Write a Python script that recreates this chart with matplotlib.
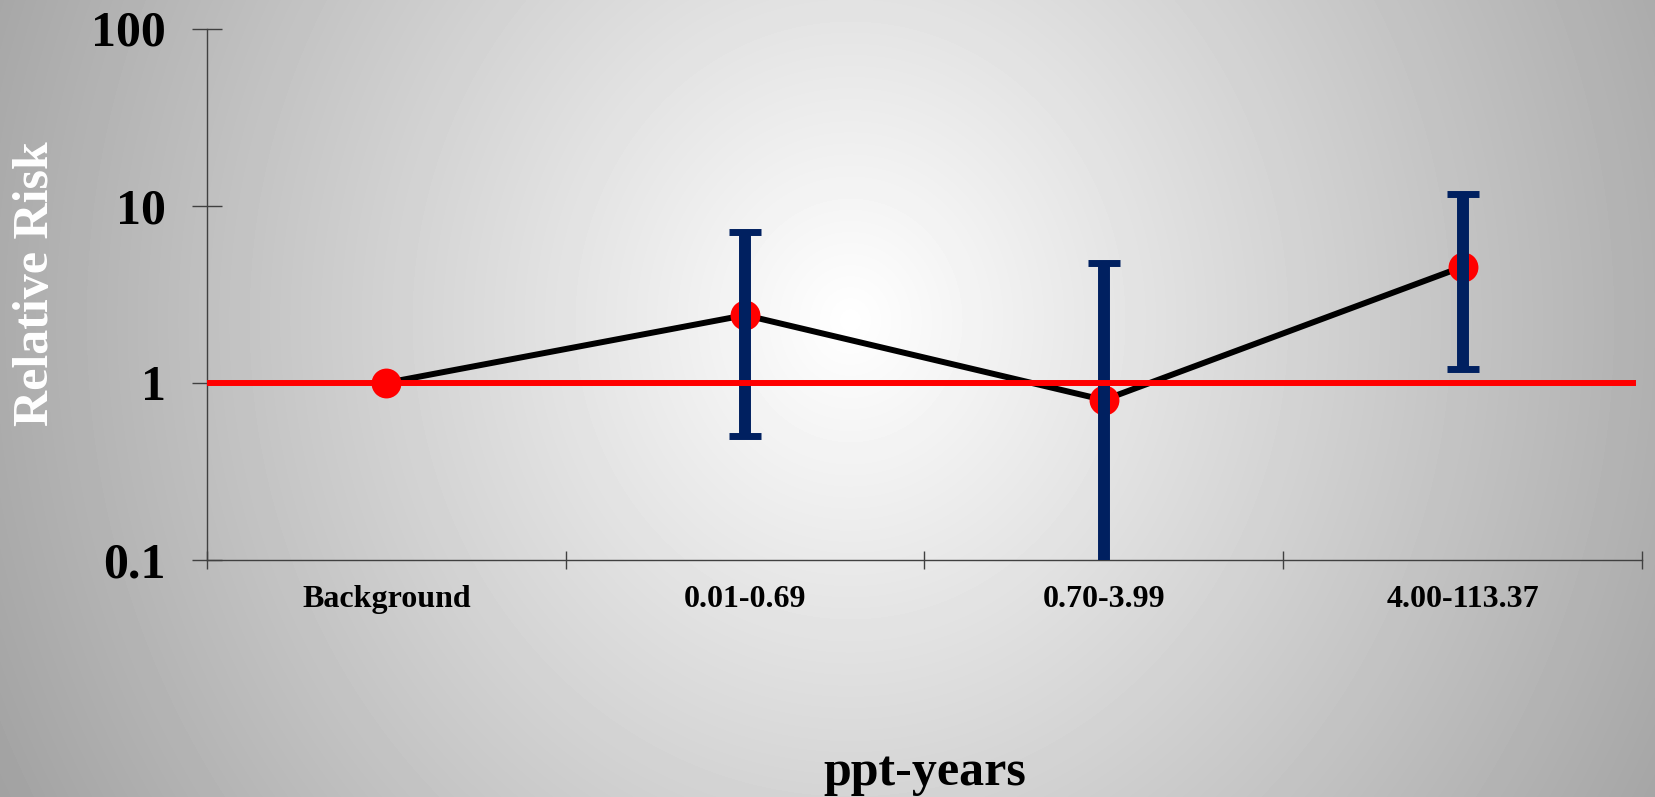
import numpy as np
import matplotlib
matplotlib.use('Agg')
import matplotlib.pyplot as plt

# Relative risk by exposure group (ppt-years)
groups = ['Background', '0.01-0.69', '0.70-3.99', '4.00-113.37']
rr = [1.0, 2.41, 0.80, 4.52]
ci_low = [np.nan, 0.50, 0.08, 1.20]
ci_high = [np.nan, 7.13, 4.72, 11.6]
ref_level = 1.0

y_ticks = [0.1, 1, 10, 100]
y_tick_labels = ['0.1', '1', '10', '100']

plt.rcParams['font.family'] = ['Liberation Serif', 'DejaVu Serif']
plt.rcParams['font.weight'] = 'bold'

W, H = 1656, 797
fig = plt.figure(figsize=(W / 100, H / 100), dpi=100)

#~~~~~~~~~~~~~~~~~~~~ radial grey background ~~~~~~~~~~~~~~~~~~~~#
bg = fig.add_axes([0, 0, 1, 1], zorder=0)
yy, xx = np.mgrid[0:H, 0:W]
d = np.sqrt(((xx - 850) / 920.0) ** 2 + ((yy - 320) / 1000.0) ** 2)
grey = 255 - 90 * np.clip(d, 0, 1.1)
bg.imshow(grey, cmap='gray', vmin=0, vmax=255, aspect='auto', interpolation='bilinear')
bg.axis('off')

#~~~~~~~~~~~~~~~~~~~~ main axes ~~~~~~~~~~~~~~~~~~~~#
ax = fig.add_axes([207 / W, 1 - 560 / H, (1642 - 207) / W, (560 - 28.5) / H], zorder=1)
ax.patch.set_alpha(0)

x = np.arange(len(groups))
ax.plot(x, rr, color='black', lw=4.3, zorder=2, solid_capstyle='butt')
ax.plot(x, rr, 'o', color='#ff0000', markersize=21.5, markeredgewidth=0, zorder=3)

lo = np.array(rr) - np.array(ci_low)
hi = np.array(ci_high) - np.array(rr)
ax.errorbar(x[1:], rr[1:], yerr=[lo[1:], hi[1:]], fmt='none', ecolor='#002060',
            elinewidth=8.6, capsize=11.5, capthick=5, zorder=4)

ax.axhline(ref_level, xmin=0, xmax=0.9935, color='#ff0000', lw=4.3, zorder=5)

ax.set_yscale('log')
ax.set_ylim(0.1, 100)
ax.set_xlim(-0.5, len(groups) - 0.5)
ax.set_yticks(y_ticks)
ax.set_yticklabels(y_tick_labels, fontsize=36, fontweight='bold')
ax.yaxis.set_minor_locator(matplotlib.ticker.NullLocator())

ax.set_xticks(np.arange(-0.5, len(groups), 1.0))
ax.set_xticklabels([])
ax.set_xticks(x, minor=True)
ax.set_xticklabels(groups, minor=True, fontsize=23, fontweight='bold')

ax.tick_params(axis='y', which='major', direction='inout', length=21, width=1,
               color='#404040', pad=19)
ax.tick_params(axis='x', which='major', direction='inout', length=13, width=1,
               color='#404040')
ax.tick_params(axis='x', which='minor', length=0, pad=18)

for s in ['top', 'right']:
    ax.spines[s].set_visible(False)
for s in ['left', 'bottom']:
    ax.spines[s].set_color('#404040')
    ax.spines[s].set_linewidth(1)

fig.text(36.5 / W, 1 - 284 / H, 'Relative Risk', rotation=90, ha='center', va='center',
         fontsize=36, fontweight='bold', color='white')
fig.text(925 / W, 1 - 785 / H, 'ppt-years', ha='center', va='baseline',
         fontsize=36, fontweight='bold', color='black')

fig.savefig('out.png', dpi=100)
